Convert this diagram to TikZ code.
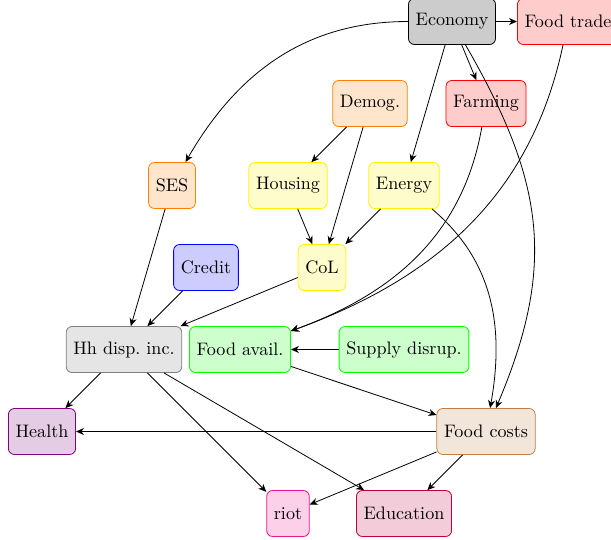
\documentclass[tikz,border=0pt]{standalone}
\usepackage{fontspec}
\setmainfont{lmroman10-regular}[Extension=.otf]
\usetikzlibrary{arrows.meta}
\definecolor{riotc}{RGB}{235,20,140}
\tikzset{
  box/.style={draw=#1, fill=#1!20, rounded corners=6pt, minimum height=46pt,
    inner xsep=7.2pt, line width=0.8pt, font=\fontsize{18.1}{22}\selectfont},
  conn/.style={-{Stealth[length=8pt,width=7pt]}, line width=0.8pt},
}
\begin{document}
\begin{tikzpicture}[x=1pt,y=1pt]
\useasboundingbox (0,0) rectangle (611,-539);
\node[box=gray, fill=gray!40, draw=black] (eco) at (452,-21.5) {Economy};
\node[box=red] (ftrade) at (568,-21.5) {Food trade};
\node[box=orange] (demog) at (370,-103.5) {Demog.};
\node[box=red] (farm) at (486,-103.5) {Farming};
\node[box=orange] (ses) at (172,-185.5) {SES};
\node[box=yellow] (housing) at (288,-185.5) {Housing};
\node[box=yellow] (energy) at (404,-185.5) {Energy};
\node[box=blue] (credit) at (206,-267.5) {Credit};
\node[box=yellow] (col) at (322,-267.5) {CoL};
\node[box=gray, fill=gray!20] (hh) at (124,-349.5) {Hh disp.\ inc.};
\node[box=green] (favail) at (240,-349.5) {Food avail.};
\node[box=green] (supply) at (404,-349.5) {Supply disrup.};
\node[box=violet] (health) at (42,-431.5) {Health};
\node[box=brown] (fcost) at (486,-431.5) {Food costs};
\node[box=riotc] (riot) at (288,-513.5) {riot};
\node[box=purple] (edu) at (404,-513.5) {Education};

\draw[conn] (eco) -- (ftrade);
\draw[conn] (eco) -- (farm);
\draw[conn] (eco) -- (energy);
\draw[conn] (eco) to[out=180,in=60] (ses);
\draw[conn] (eco) to[out=-60,in=67,looseness=1.1] (fcost);
\draw[conn] (ftrade) to[out=-102,in=20] (favail);
\draw[conn] (farm) to[out=-100,in=20] (favail);
\draw[conn] (demog) -- (housing);
\draw[conn] (demog) -- (col);
\draw[conn] (housing) -- (col);
\draw[conn] (energy) -- (col);
\draw[conn] (energy) to[out=-40,in=80] (fcost);
\draw[conn] (ses) -- (hh);
\draw[conn] (credit) -- (hh);
\draw[conn] (col) -- (hh);
\draw[conn] (supply) -- (favail);
\draw[conn] (favail) -- (fcost);
\draw[conn] (hh) -- (health);
\draw[conn] (hh) -- (riot);
\draw[conn] (hh) -- (edu);
\draw[conn] (fcost) -- (health);
\draw[conn] (fcost) -- (riot);
\draw[conn] (fcost) -- (edu);
\end{tikzpicture}
\end{document}
